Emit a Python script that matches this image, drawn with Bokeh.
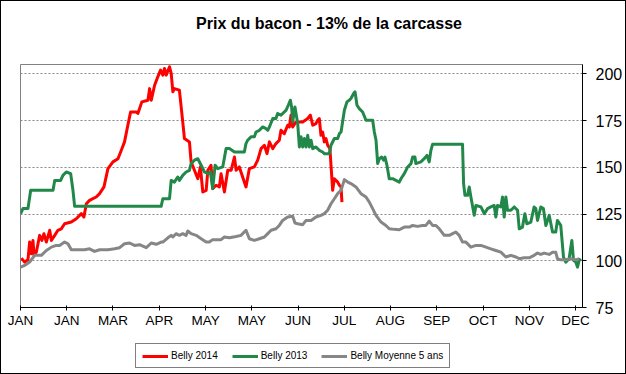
from bokeh.plotting import figure
from bokeh.models import FixedTicker, Range1d, Legend, LegendItem, Label
from bokeh.layouts import column
from bokeh.embed import file_html
from bokeh.resources import INLINE

# ---- data (x = day of year, y = price) ----
belly_2014 = [(0.6, 101.4), (2.7, 99.3), (4.9, 100.5), (6.0, 110.0), (7.1, 103.8), (8.2, 110.9), (8.9, 102.9),
              (10.4, 104.6), (12.6, 113.6), (14.1, 110.9), (15.4, 114.5), (17.0, 110.0), (19.2, 116.3), (20.3, 110.9),
              (22.5, 113.6), (24.6, 116.3), (26.8, 117.1), (29.0, 119.8), (33.4, 120.7), (36.7, 122.5), (40.0, 125.2),
              (41.7, 123.4), (43.3, 130.5), (45.4, 132.3), (47.6, 133.2), (49.8, 134.1), (52.0, 135.9), (54.9, 139.5),
              (57.5, 149.3), (60.8, 152.9), (64.1, 154.6), (66.3, 159.1), (68.4, 163.6), (70.6, 172.5), (72.4, 179.6),
              (76.1, 179.6), (77.2, 178.8), (79.8, 185.0), (83.8, 185.9), (84.9, 192.1), (86.0, 185.9), (88.2, 193.9),
              (90.3, 198.4), (92.1, 202.0), (93.6, 199.3), (94.7, 202.9), (95.8, 199.3), (98.0, 203.8), (99.1, 200.2),
              (100.2, 190.4), (101.2, 192.1), (104.5, 191.3), (106.7, 174.3), (107.8, 165.4), (111.1, 163.6),
              (112.2, 152.9), (114.4, 148.4), (116.6, 143.9), (118.3, 150.2), (119.9, 136.8), (122.1, 137.7),
              (123.2, 148.4), (125.3, 151.1), (126.4, 138.6), (128.6, 140.4), (130.8, 139.5), (131.9, 146.6),
              (134.1, 136.8), (136.3, 148.4), (138.5, 148.4), (140.7, 155.5), (141.8, 148.4), (143.9, 150.2),
              (146.1, 144.8), (148.3, 139.5), (150.5, 149.3), (153.8, 150.2), (156.0, 153.8), (158.2, 160.0),
              (160.4, 161.8), (162.1, 157.3), (163.7, 163.6), (165.9, 160.0), (168.0, 162.7), (170.2, 164.5),
              (171.3, 169.8), (173.5, 168.0), (175.7, 172.5), (176.8, 171.6), (177.9, 177.9), (179.0, 171.6),
              (181.2, 174.3), (183.4, 174.3), (185.6, 174.3), (188.9, 176.1), (190.6, 177.9), (192.2, 172.5),
              (194.3, 173.4), (195.4, 175.2), (196.5, 176.1), (197.6, 167.1), (198.7, 168.9), (199.8, 163.6),
              (200.9, 165.4), (202.0, 161.8), (203.5, 160.0), (204.2, 151.1), (205.3, 137.7), (206.4, 143.9),
              (208.6, 142.1), (209.7, 140.4), (210.8, 139.5), (211.4, 131.4)]

belly_2013 = [(0.1, 125.2), (1.6, 127.9), (4.9, 127.9), (6.7, 137.7), (21.4, 137.7), (22.5, 143.0), (26.4, 143.0),
              (27.9, 145.7), (30.1, 147.5), (33.0, 146.6), (34.5, 137.7), (35.6, 129.1), (92.5, 129.1), (93.6, 133.2),
              (98.0, 133.2), (99.1, 143.0), (101.2, 142.1), (103.4, 144.8), (104.5, 143.0), (106.7, 145.7),
              (108.9, 147.5), (111.1, 148.4), (112.2, 152.0), (114.4, 153.8), (116.6, 154.6), (118.8, 151.1),
              (121.0, 147.5), (123.2, 146.6), (124.9, 147.5), (126.4, 138.6), (128.0, 151.1), (129.7, 149.3),
              (133.0, 150.2), (135.2, 160.0), (137.4, 160.0), (140.7, 158.2), (147.2, 158.2), (148.3, 162.7),
              (149.4, 164.5), (151.6, 166.3), (153.8, 166.3), (154.9, 168.9), (157.1, 169.8), (159.3, 171.6),
              (161.5, 170.7), (162.6, 169.8), (163.7, 171.6), (165.9, 176.1), (168.0, 176.1), (169.1, 178.8),
              (171.3, 177.9), (172.4, 178.8), (174.6, 180.5), (176.1, 183.2), (177.5, 185.9), (178.3, 182.3),
              (179.0, 174.3), (180.5, 182.3), (182.3, 173.4), (183.4, 160.9), (184.5, 166.3), (185.6, 160.9),
              (186.7, 165.4), (187.8, 160.9), (188.9, 167.1), (190.0, 160.9), (191.1, 164.5), (192.2, 160.0),
              (194.3, 160.9), (196.5, 159.1), (198.7, 158.2), (199.8, 157.3), (203.1, 157.3), (204.2, 161.8),
              (206.4, 165.4), (208.6, 165.4), (209.7, 168.0), (210.8, 168.9), (213.0, 180.5), (214.7, 185.0),
              (216.2, 185.9), (217.3, 186.8), (219.1, 189.5), (220.0, 190.4), (221.3, 183.2), (222.8, 181.4),
              (225.0, 179.6), (227.2, 175.2), (231.6, 175.2), (232.7, 168.9), (233.8, 164.5), (234.9, 152.0),
              (236.0, 154.6), (237.5, 155.5), (238.8, 153.8), (239.7, 155.5), (241.0, 151.1), (242.5, 143.9),
              (244.7, 143.9), (246.9, 143.0), (249.1, 142.1), (250.2, 143.9), (252.4, 146.6), (253.5, 148.4),
              (254.6, 150.2), (256.8, 152.0), (257.9, 155.5), (259.4, 155.5), (260.0, 152.0), (263.3, 152.9),
              (265.5, 154.6), (267.3, 156.4), (268.8, 152.9), (269.9, 159.1), (271.0, 162.3), (290.7, 162.3),
              (291.4, 141.3), (292.3, 135.0), (294.0, 135.0), (295.1, 139.5), (296.2, 134.1), (298.4, 124.3),
              (299.5, 129.6), (302.8, 128.8), (305.0, 125.2), (307.2, 127.9), (309.3, 128.8), (311.5, 129.6),
              (312.6, 123.4), (313.7, 129.6), (315.9, 128.8), (317.0, 134.1), (318.1, 123.4), (319.2, 134.1),
              (320.3, 127.0), (322.5, 127.0), (324.7, 128.8), (326.9, 127.0), (328.0, 117.1), (330.1, 118.0),
              (331.7, 125.2), (333.0, 119.8), (335.6, 120.7), (337.8, 128.8), (338.9, 127.9), (340.0, 121.6),
              (342.2, 128.8), (343.9, 127.9), (345.5, 118.9), (347.7, 124.3), (349.9, 115.4), (352.0, 115.4),
              (353.1, 121.6), (355.3, 118.9), (357.1, 102.0), (358.6, 99.3), (360.8, 101.1), (362.6, 110.9),
              (363.7, 100.2), (365.2, 99.3), (366.3, 96.6), (367.4, 100.2), (368.5, 101.1)]

belly_avg5 = [(0.1, 96.6), (2.7, 97.5), (6.0, 99.3), (9.3, 102.9), (13.7, 102.9), (17.0, 105.5), (20.3, 107.3),
              (23.5, 108.2), (25.7, 108.2), (29.0, 110.0), (31.2, 109.1), (33.4, 105.9), (42.2, 105.9), (45.4, 106.4),
              (48.7, 105.0), (52.0, 105.9), (57.5, 105.9), (61.9, 106.4), (65.2, 107.0), (68.4, 109.1), (71.7, 109.5),
              (75.0, 108.2), (78.3, 108.6), (82.7, 107.0), (86.0, 109.5), (89.3, 108.8), (92.5, 110.0), (93.6, 110.0),
              (96.9, 112.3), (99.1, 113.6), (100.2, 112.7), (102.3, 114.5), (104.5, 113.6), (106.7, 114.5),
              (108.9, 113.6), (110.0, 115.9), (112.2, 114.5), (115.5, 113.6), (118.8, 111.8), (122.1, 110.0),
              (124.2, 110.0), (126.4, 111.3), (131.9, 111.3), (134.1, 112.7), (137.4, 112.3), (141.8, 113.0),
              (145.0, 113.6), (148.3, 116.3), (150.5, 111.8), (153.8, 110.9), (157.1, 111.8), (160.4, 112.7),
              (162.6, 114.5), (164.8, 116.3), (168.0, 117.1), (170.2, 118.9), (172.4, 121.6), (175.7, 123.4),
              (179.0, 123.8), (180.5, 120.2), (182.3, 119.8), (185.6, 119.3), (187.8, 121.6), (191.1, 121.6),
              (194.3, 123.4), (197.6, 124.3), (199.8, 125.2), (202.0, 127.0), (204.2, 130.5), (206.4, 133.2),
              (208.6, 135.9), (210.8, 137.7), (213.0, 143.4), (215.2, 142.1), (217.3, 141.3), (220.6, 139.5),
              (223.9, 135.9), (227.2, 134.1), (229.4, 131.4), (231.6, 127.9), (233.8, 124.3), (237.1, 120.7),
              (240.3, 118.9), (242.5, 117.1), (245.8, 116.8), (249.1, 116.6), (252.4, 118.0), (255.7, 118.0),
              (257.9, 118.9), (261.1, 118.4), (264.4, 118.9), (266.6, 118.9), (268.8, 121.2), (271.0, 118.9),
              (273.2, 118.9), (275.4, 117.1), (278.7, 113.6), (282.0, 113.6), (284.2, 114.5), (286.3, 115.4),
              (288.5, 113.6), (290.7, 110.0), (292.9, 110.0), (296.2, 107.3), (299.5, 108.2), (302.8, 108.2),
              (306.1, 107.3), (309.3, 106.4), (312.6, 105.5), (315.9, 104.6), (319.2, 102.0), (322.5, 102.9),
              (325.8, 102.0), (328.0, 101.1), (331.2, 101.6), (334.5, 101.6), (337.8, 102.9), (340.0, 104.1),
              (342.2, 103.4), (344.4, 104.1), (347.7, 103.4), (349.9, 104.6), (352.0, 104.6), (353.1, 101.1),
              (355.3, 100.5), (358.6, 100.5), (361.9, 101.1), (365.2, 100.5), (367.4, 101.1)]

tick_days = [0, 30.4, 60.8, 91.3, 121.7, 152.1, 182.5, 212.9, 243.3, 273.8, 304.2, 334.6, 365.0]
tick_labels = ["JAN", "JAN", "MAR", "APR", "MAY", "MAY", "JUN", "JUL", "AUG", "SEP", "OCT", "NOV", "DEC"]
y_ticks = [75, 100, 125, 150, 175, 200]

chart_title = "Prix du bacon - 13% de la carcasse"
series_names = ["Belly 2014", "Belly 2013", "Belly Moyenne 5 ans"]
series_colors = ["#FF0000", "#22884A", "#868686"]
all_series = [belly_2014, belly_2013, belly_avg5]

FONT = "Liberation Sans"
W = 624


def blank(height):
    # a strip whose data units are pixels (y measured downwards)
    f = figure(width=W, height=height, output_backend="svg", toolbar_location=None,
               x_range=Range1d(0, W), y_range=Range1d(height, 0),
               x_axis_type=None, y_axis_type=None, frame_align=False,
               min_border_left=0, min_border_right=0, min_border_top=0, min_border_bottom=0)
    f.outline_line_color = None
    f.grid.visible = False
    f.background_fill_color = "white"
    f.border_fill_color = "white"
    return f


# ---- title strip ----
t = blank(58)
t.add_layout(Label(x=327.5, y=22, text=chart_title, text_align="center", text_baseline="alphabetic",
                   text_font=FONT, text_font_size="16px", text_font_style="bold", text_color="black"))

# ---- main chart ----
p = figure(width=W, height=278, output_backend="svg", toolbar_location=None,
           x_range=Range1d(0, 369.6), y_range=Range1d(75, 205), y_axis_location="right",
           frame_align=False,
           min_border_left=19, min_border_right=42, min_border_top=5, min_border_bottom=30)
p.background_fill_color = "white"
p.border_fill_color = "white"
p.outline_line_color = "#808080"
p.outline_line_width = 1

xa = p.xaxis[0]
xa.ticker = FixedTicker(ticks=tick_days)
xa.major_label_overrides = {t_: lab for t_, lab in zip(tick_days, tick_labels)}
xa.minor_tick_line_color = None
xa.major_tick_in = 2
xa.major_tick_out = 3
xa.axis_line_color = "black"
xa.major_tick_line_color = "black"
xa.major_label_text_font = FONT
xa.major_label_text_font_size = "13.5px"
xa.major_label_text_color = "black"
xa.major_label_standoff = 2

ya = p.yaxis[0]
ya.ticker = FixedTicker(ticks=y_ticks)
ya.minor_tick_line_color = None
ya.major_tick_in = 0
ya.major_tick_out = 4
ya.axis_line_color = "black"
ya.major_tick_line_color = "black"
ya.major_label_text_font = FONT
ya.major_label_text_font_size = "16px"
ya.major_label_text_color = "black"
ya.major_label_standoff = 9

p.xgrid.visible = False
p.ygrid.ticker = FixedTicker(ticks=y_ticks)
p.ygrid.grid_line_color = "#888888"
p.ygrid.grid_line_dash = "2 2"
p.ygrid.grid_line_width = 1

for data, color in zip(all_series, series_colors):
    xs = [d for d, v in data]
    ys = [v for d, v in data]
    p.line(xs, ys, line_color=color, line_width=3, line_join="round")

# ---- legend strip (series re-drawn off-view, only their legend swatches show) ----
q = blank(36)
proxies = []
for data, color in zip(all_series, series_colors):
    proxies.append(q.line([d for d, v in data], [v for d, v in data], line_color=color, line_width=3))
legend = Legend(items=[LegendItem(label=n, renderers=[r]) for n, r in zip(series_names, proxies)],
                orientation="horizontal", location=(134, 5))
legend.border_line_color = "black"
legend.border_line_width = 1
legend.background_fill_color = "white"
legend.background_fill_alpha = 1
legend.label_text_font = FONT
legend.label_text_font_size = "10px"
legend.label_text_color = "black"
legend.glyph_width = 26
legend.glyph_height = 10
legend.label_height = 10
legend.padding = 6
legend.spacing = 14
legend.label_standoff = 3
legend.margin = 0
q.add_layout(legend)

layout = column(t, p, q, spacing=0, styles={"margin": "1px", "outline": "1px solid black"})

open("out.html", "w").write(file_html(layout, INLINE))
